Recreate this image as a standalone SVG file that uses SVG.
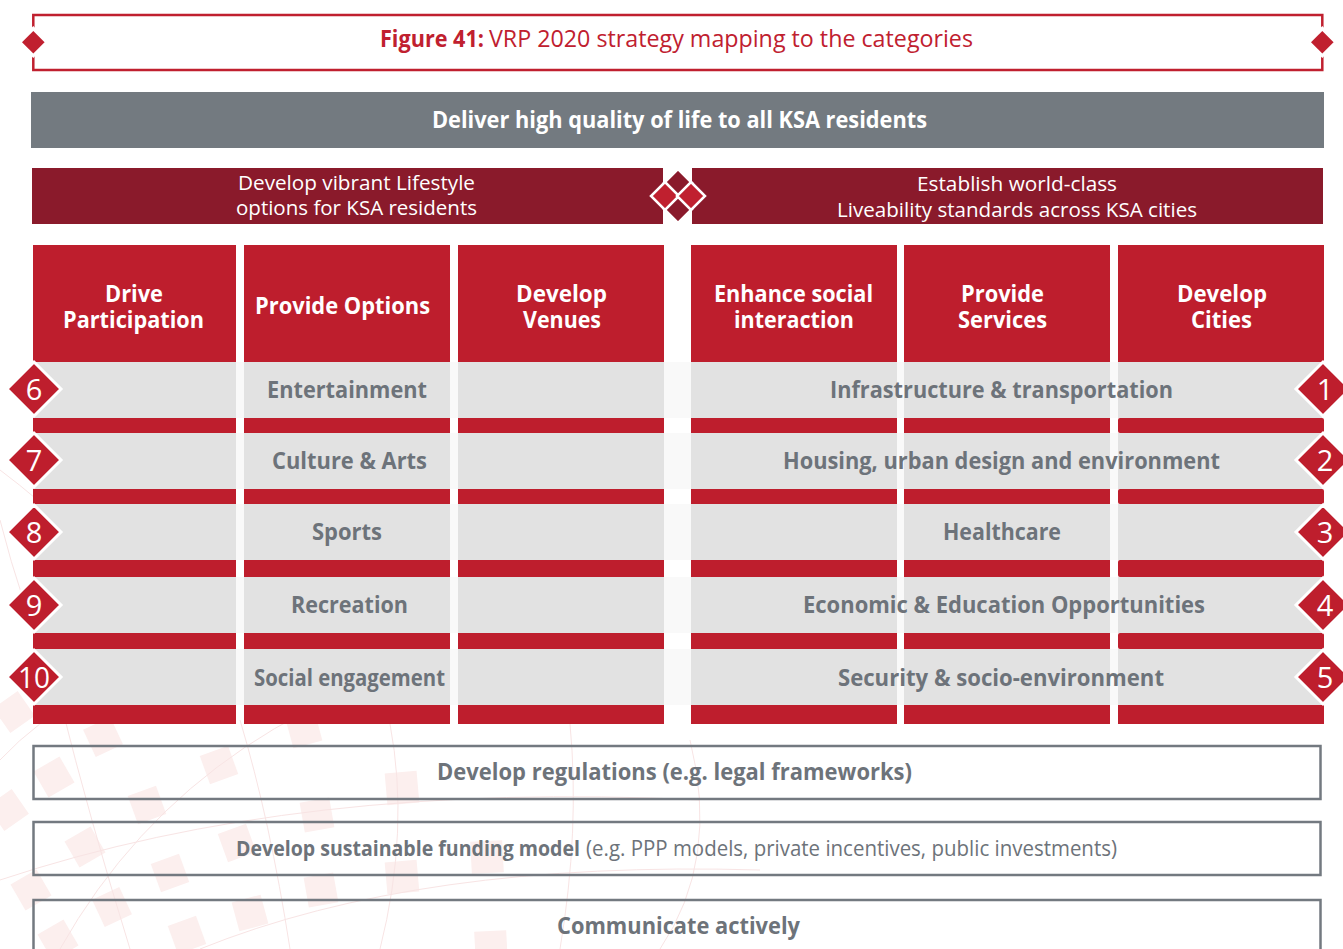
<svg xmlns="http://www.w3.org/2000/svg" width="1343" height="949" viewBox="0 0 1343 949">
<style>
.bg{fill:#fcefee}
.bgl{fill:none;stroke:#f8e4e4;stroke-width:1}
.hdr{fill:#be1e2d}
.band{fill:#be1e2d}
.cell{fill:#e2e2e2}
.gap{fill:#f9f9f9}
.dk{fill:#8a1a2b}
.t{font-family:"Open Sans","Liberation Sans",sans-serif}
.wb{fill:#fff;font-weight:700;font-size:23px}
.wr{fill:#fff;font-weight:400;font-size:20px}
.gl{fill:#6d737a;font-weight:700;font-size:23px}
.num{fill:#fff;font-weight:400;font-size:29px;font-family:"Open Sans","Liberation Sans",sans-serif}
.nd{fill:#be1e2d;stroke:#fff;stroke-width:3}
.box{fill:none;stroke:#737980;stroke-width:2.5}
</style>
<rect width="1343" height="949" fill="#fff"/>
<g id="background">
<g class="bg">
<rect x="-15" y="-15" width="30" height="30" transform="translate(103 737) rotate(-25)"/>
<rect x="-15" y="-15" width="30" height="30" transform="translate(219 765) rotate(-20)"/>
<rect x="-15" y="-15" width="30" height="30" transform="translate(304 730) rotate(-15)"/>
<rect x="-16" y="-16" width="32" height="32" transform="translate(402 788) rotate(-5)"/>
<rect x="-15" y="-15" width="30" height="30" transform="translate(54 777) rotate(-30)"/>
<rect x="-15" y="-15" width="30" height="30" transform="translate(147 805) rotate(-20)"/>
<rect x="-15" y="-15" width="30" height="30" transform="translate(317 815) rotate(-10)"/>
<rect x="-15" y="-15" width="30" height="30" transform="translate(237 843) rotate(-20)"/>
<rect x="-15" y="-15" width="30" height="30" transform="translate(85 847) rotate(-30)"/>
<rect x="-16" y="-16" width="32" height="32" transform="translate(402 877) rotate(-5)"/>
<rect x="-15" y="-15" width="30" height="30" transform="translate(321 890) rotate(-10)"/>
<rect x="-15" y="-15" width="30" height="30" transform="translate(170 873) rotate(-20)"/>
<rect x="-15" y="-15" width="30" height="30" transform="translate(31 890) rotate(-30)"/>
<rect x="-15" y="-15" width="30" height="30" transform="translate(112 907) rotate(-25)"/>
<rect x="-15" y="-15" width="30" height="30" transform="translate(250 913) rotate(-15)"/>
<rect x="-15" y="-15" width="30" height="30" transform="translate(187 935) rotate(-20)"/>
<rect x="-15" y="-15" width="30" height="30" transform="translate(58 940) rotate(-30)"/>
<rect x="-16" y="-16" width="32" height="32" transform="translate(487 857) rotate(-3)"/>
<rect x="-16" y="-16" width="32" height="32" transform="translate(491 947) rotate(-3)"/>
<rect x="-15" y="-15" width="30" height="30" transform="translate(14 712) rotate(-35)"/>
<rect x="-15" y="-15" width="30" height="30" transform="translate(8 810) rotate(-35)"/>
</g>
<g class="bgl">
<path d="M0 760 Q150 600 420 720"/>
<path d="M60 949 Q200 700 520 640"/>
<path d="M130 949 Q90 820 60 700"/>
<path d="M290 949 Q270 820 240 720"/>
<path d="M380 949 Q410 830 390 724"/>
<path d="M560 949 Q580 830 570 724"/>
<path d="M0 880 Q300 780 700 800"/>
<path d="M200 949 Q420 860 760 870"/>
<path d="M0 520 Q20 600 60 700"/>
<path d="M0 470 Q40 500 70 530"/>
<path d="M660 949 Q720 860 690 740"/>
</g>
</g>
<g id="title">
<rect x="33.3" y="15" width="1289" height="55" fill="none" stroke="#c0202f" stroke-width="2.5"/>
<polygon points="33.3,26 49.3,42 33.3,58 17.3,42" fill="#fff"/>
<polygon points="33.3,31 44.6,42.3 33.3,53.6 22,42.3" fill="#c0202f"/>
<polygon points="1322.3,26 1338.3,42 1322.3,58 1306.3,42" fill="#fff"/>
<polygon points="1322.3,31 1333.6,42.3 1322.3,53.6 1311,42.3" fill="#c0202f"/>
<text class="t" x="380" y="47" font-size="23" font-weight="700" fill="#c0202f" textLength="104" lengthAdjust="spacingAndGlyphs">Figure 41:</text>
<text class="t" x="489" y="47" font-size="23" font-weight="400" fill="#c0202f" textLength="484" lengthAdjust="spacingAndGlyphs">VRP 2020 strategy mapping to the categories</text>
</g>
<g id="goal">
<rect x="31" y="92" width="1293" height="56" fill="#737a80"/>
<text class="t wb" x="679.5" y="128" text-anchor="middle" textLength="495" lengthAdjust="spacingAndGlyphs">Deliver high quality of life to all KSA residents</text>
</g>
<g id="lifestyle">
<rect x="32" y="168" width="631" height="56" class="dk"/>
<text class="t wr" x="356.5" y="190" text-anchor="middle" textLength="237" lengthAdjust="spacingAndGlyphs">Develop vibrant Lifestyle</text>
<text class="t wr" x="356.5" y="215" text-anchor="middle" textLength="241" lengthAdjust="spacingAndGlyphs">options for KSA residents</text>
</g>
<g id="liveability">
<rect x="692" y="168" width="631" height="56" class="dk"/>
<text class="t wr" x="1017" y="191" text-anchor="middle" textLength="200" lengthAdjust="spacingAndGlyphs">Establish world-class</text>
<text class="t wr" x="1017" y="217" text-anchor="middle" textLength="360" lengthAdjust="spacingAndGlyphs">Liveability standards across KSA cities</text>
</g>
<g id="center-diamonds" stroke="#fff" stroke-width="2.5">
<polygon points="678,169 692,183 678,197 664,183" fill="#8a1a2b"/>
<polygon points="678,195 692,209 678,223 664,209" fill="#8a1a2b"/>
<polygon points="665,182 679,196 665,210 651,196" fill="#c0202f"/>
<polygon points="691,182 705,196 691,210 677,196" fill="#c0202f"/>
</g>
<g id="rows">
<rect x="33" y="362" width="1291" height="56" class="gap"/>
<rect x="33" y="433" width="1291" height="56" class="gap"/>
<rect x="33" y="504" width="1291" height="56" class="gap"/>
<rect x="33" y="577" width="1291" height="56" class="gap"/>
<rect x="33" y="649" width="1291" height="56" class="gap"/>
</g>
<g id="col-drive">
<rect x="33" y="245" width="203" height="117" class="hdr"/>
<rect x="33" y="362" width="203" height="56" class="cell"/><rect x="33" y="418" width="203" height="15" class="band"/>
<rect x="33" y="433" width="203" height="56" class="cell"/><rect x="33" y="489" width="203" height="15" class="band"/>
<rect x="33" y="504" width="203" height="56" class="cell"/><rect x="33" y="560" width="203" height="17" class="band"/>
<rect x="33" y="577" width="203" height="56" class="cell"/><rect x="33" y="633" width="203" height="16" class="band"/>
<rect x="33" y="649" width="203" height="56" class="cell"/><rect x="33" y="705" width="203" height="19" class="band"/>
<text class="t wb" x="134" y="302" text-anchor="middle" textLength="58" lengthAdjust="spacingAndGlyphs">Drive</text>
<text class="t wb" x="133.5" y="328" text-anchor="middle" textLength="141" lengthAdjust="spacingAndGlyphs">Participation</text>
</g>
<g id="col-options">
<rect x="244" y="245" width="206" height="117" class="hdr"/>
<rect x="244" y="362" width="206" height="56" class="cell"/><rect x="244" y="418" width="206" height="15" class="band"/>
<rect x="244" y="433" width="206" height="56" class="cell"/><rect x="244" y="489" width="206" height="15" class="band"/>
<rect x="244" y="504" width="206" height="56" class="cell"/><rect x="244" y="560" width="206" height="17" class="band"/>
<rect x="244" y="577" width="206" height="56" class="cell"/><rect x="244" y="633" width="206" height="16" class="band"/>
<rect x="244" y="649" width="206" height="56" class="cell"/><rect x="244" y="705" width="206" height="19" class="band"/>
<text class="t wb" x="342.5" y="314" text-anchor="middle" textLength="175" lengthAdjust="spacingAndGlyphs">Provide Options</text>
</g>
<g id="col-venues">
<rect x="458" y="245" width="206" height="117" class="hdr"/>
<rect x="458" y="362" width="206" height="56" class="cell"/><rect x="458" y="418" width="206" height="15" class="band"/>
<rect x="458" y="433" width="206" height="56" class="cell"/><rect x="458" y="489" width="206" height="15" class="band"/>
<rect x="458" y="504" width="206" height="56" class="cell"/><rect x="458" y="560" width="206" height="17" class="band"/>
<rect x="458" y="577" width="206" height="56" class="cell"/><rect x="458" y="633" width="206" height="16" class="band"/>
<rect x="458" y="649" width="206" height="56" class="cell"/><rect x="458" y="705" width="206" height="19" class="band"/>
<text class="t wb" x="561.5" y="302" text-anchor="middle" textLength="91" lengthAdjust="spacingAndGlyphs">Develop</text>
<text class="t wb" x="562" y="328" text-anchor="middle" textLength="78" lengthAdjust="spacingAndGlyphs">Venues</text>
</g>
<g id="col-social">
<rect x="691" y="245" width="206" height="117" class="hdr"/>
<rect x="691" y="362" width="206" height="56" class="cell"/><rect x="691" y="418" width="206" height="15" class="band"/>
<rect x="691" y="433" width="206" height="56" class="cell"/><rect x="691" y="489" width="206" height="15" class="band"/>
<rect x="691" y="504" width="206" height="56" class="cell"/><rect x="691" y="560" width="206" height="17" class="band"/>
<rect x="691" y="577" width="206" height="56" class="cell"/><rect x="691" y="633" width="206" height="16" class="band"/>
<rect x="691" y="649" width="206" height="56" class="cell"/><rect x="691" y="705" width="206" height="19" class="band"/>
<text class="t wb" x="793.5" y="302" text-anchor="middle" textLength="159" lengthAdjust="spacingAndGlyphs">Enhance social</text>
<text class="t wb" x="794" y="328" text-anchor="middle" textLength="120" lengthAdjust="spacingAndGlyphs">interaction</text>
</g>
<g id="col-services">
<rect x="904" y="245" width="206" height="117" class="hdr"/>
<rect x="904" y="362" width="206" height="56" class="cell"/><rect x="904" y="418" width="206" height="15" class="band"/>
<rect x="904" y="433" width="206" height="56" class="cell"/><rect x="904" y="489" width="206" height="15" class="band"/>
<rect x="904" y="504" width="206" height="56" class="cell"/><rect x="904" y="560" width="206" height="17" class="band"/>
<rect x="904" y="577" width="206" height="56" class="cell"/><rect x="904" y="633" width="206" height="16" class="band"/>
<rect x="904" y="649" width="206" height="56" class="cell"/><rect x="904" y="705" width="206" height="19" class="band"/>
<text class="t wb" x="1002.5" y="302" text-anchor="middle" textLength="83" lengthAdjust="spacingAndGlyphs">Provide</text>
<text class="t wb" x="1002.5" y="328" text-anchor="middle" textLength="89" lengthAdjust="spacingAndGlyphs">Services</text>
</g>
<g id="col-cities">
<rect x="1118" y="245" width="206" height="117" class="hdr"/>
<rect x="1118" y="362" width="204" height="56" class="cell"/><rect x="1118" y="418" width="206" height="15" rx="2" class="band"/>
<rect x="1118" y="433" width="204" height="56" class="cell"/><rect x="1118" y="489" width="206" height="15" rx="2" class="band"/>
<rect x="1118" y="504" width="204" height="56" class="cell"/><rect x="1118" y="560" width="206" height="17" rx="2" class="band"/>
<rect x="1118" y="577" width="204" height="56" class="cell"/><rect x="1118" y="633" width="206" height="16" rx="2" class="band"/>
<rect x="1118" y="649" width="204" height="56" class="cell"/><rect x="1118" y="705" width="206" height="19" class="band"/>
<text class="t wb" x="1222" y="302" text-anchor="middle" textLength="90" lengthAdjust="spacingAndGlyphs">Develop</text>
<text class="t wb" x="1221.5" y="328" text-anchor="middle" textLength="61" lengthAdjust="spacingAndGlyphs">Cities</text>
</g>
<g id="labels-left">
<text class="t gl" x="347" y="398" text-anchor="middle" textLength="160" lengthAdjust="spacingAndGlyphs">Entertainment</text>
<text class="t gl" x="349.5" y="469" text-anchor="middle" textLength="155" lengthAdjust="spacingAndGlyphs">Culture &amp; Arts</text>
<text class="t gl" x="347" y="540" text-anchor="middle" textLength="70" lengthAdjust="spacingAndGlyphs">Sports</text>
<text class="t gl" x="349.5" y="613" text-anchor="middle" textLength="117" lengthAdjust="spacingAndGlyphs">Recreation</text>
<text class="t gl" x="349.5" y="686" text-anchor="middle" textLength="191" lengthAdjust="spacingAndGlyphs">Social engagement</text>
</g>
<g id="labels-right">
<text class="t gl" x="1001.5" y="398" text-anchor="middle" textLength="343" lengthAdjust="spacingAndGlyphs">Infrastructure &amp; transportation</text>
<text class="t gl" x="1001.5" y="469" text-anchor="middle" textLength="437" lengthAdjust="spacingAndGlyphs">Housing, urban design and environment</text>
<text class="t gl" x="1002" y="540" text-anchor="middle" textLength="118" lengthAdjust="spacingAndGlyphs">Healthcare</text>
<text class="t gl" x="1004" y="613" text-anchor="middle" textLength="402" lengthAdjust="spacingAndGlyphs">Economic &amp; Education Opportunities</text>
<text class="t gl" x="1001" y="686" text-anchor="middle" textLength="326" lengthAdjust="spacingAndGlyphs">Security &amp; socio-environment</text>
</g>
<g id="numbers-left">
<polygon class="nd" points="34,362 61,389 34,416 7,389"/><text class="num" x="34" y="400" text-anchor="middle">6</text>
<polygon class="nd" points="34,433 61,460 34,487 7,460"/><text class="num" x="34" y="471" text-anchor="middle">7</text>
<polygon class="nd" points="34,505 61,532 34,559 7,532"/><text class="num" x="34" y="543" text-anchor="middle">8</text>
<polygon class="nd" points="34,578 61,605 34,632 7,605"/><text class="num" x="34" y="616" text-anchor="middle">9</text>
<polygon class="nd" points="34,650 61,677 34,704 7,677"/><text class="num" x="34" y="688" text-anchor="middle" textLength="32" lengthAdjust="spacingAndGlyphs">10</text>
</g>
<g id="numbers-right">
<polygon class="nd" points="1323,362 1350,389 1323,416 1296,389"/><text class="num" x="1325" y="400" text-anchor="middle">1</text>
<polygon class="nd" points="1323,433 1350,460 1323,487 1296,460"/><text class="num" x="1325" y="471" text-anchor="middle">2</text>
<polygon class="nd" points="1323,505 1350,532 1323,559 1296,532"/><text class="num" x="1325" y="543" text-anchor="middle">3</text>
<polygon class="nd" points="1323,578 1350,605 1323,632 1296,605"/><text class="num" x="1325" y="616" text-anchor="middle">4</text>
<polygon class="nd" points="1323,650 1350,677 1323,704 1296,677"/><text class="num" x="1325" y="688" text-anchor="middle">5</text>
</g>
<g id="regulations">
<rect x="33.5" y="746" width="1287" height="53" class="box"/>
<text class="t gl" x="674.5" y="780" text-anchor="middle" textLength="475" lengthAdjust="spacingAndGlyphs">Develop regulations (e.g. legal frameworks)</text>
</g>
<g id="funding">
<rect x="33.5" y="822" width="1287" height="53" class="box"/>
<text class="t" x="236" y="856" font-size="21" font-weight="700" fill="#6d737a" textLength="344" lengthAdjust="spacingAndGlyphs">Develop sustainable funding model</text>
<text class="t" x="586" y="856" font-size="21" font-weight="400" fill="#6d737a" textLength="531" lengthAdjust="spacingAndGlyphs">(e.g. PPP models, private incentives, public investments)</text>
</g>
<g id="communicate">
<rect x="33.5" y="900" width="1287" height="60" class="box"/>
<text class="t gl" x="678.5" y="934" text-anchor="middle" textLength="243" lengthAdjust="spacingAndGlyphs">Communicate actively</text>
</g>
</svg>
